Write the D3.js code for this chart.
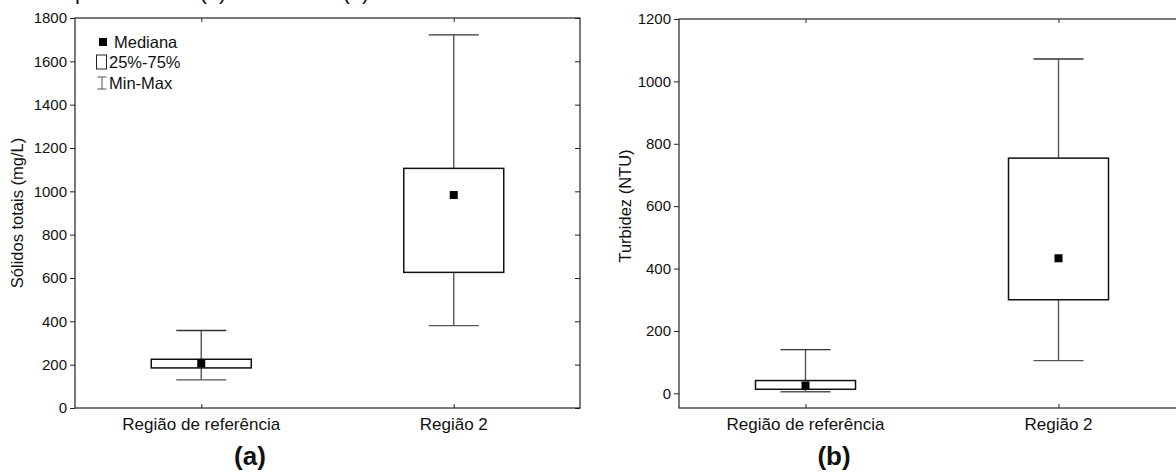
<!DOCTYPE html>
<html><head><meta charset="utf-8">
<script src="https://cdn.jsdelivr.net/npm/d3@7"></script>
<style>
body{margin:0;background:#fff}
text{font-family:"Liberation Sans",Arial,sans-serif;fill:#111}
</style>
</head><body>
<svg id="chart" width="1176" height="475"></svg>
<script>
// Categories shared by both panels
const categories = ["Região de referência", "Região 2"];

// (a) Sólidos totais (mg/L): min, quartis, mediana, max
const solidsMin = [130, 380];
const solidsQ1  = [185, 626];
const solidsMed = [206, 983];
const solidsQ3  = [225, 1106];
const solidsMax = [358, 1722];
const solidsTicks = [0, 200, 400, 600, 800, 1000, 1200, 1400, 1600, 1800];

// (b) Turbidez (NTU)
const turbMin = [5, 105];
const turbQ1  = [13, 300];
const turbMed = [25, 433];
const turbQ3  = [41, 754];
const turbMax = [140, 1072];
const turbTicks = [0, 200, 400, 600, 800, 1000, 1200];

const legendItems = ["Mediana", "25%-75%", "Min-Max"];

const svg = d3.select("#chart");

// Clipped line of the caption above the figure
svg.append("text").attr("x", 75).attr("y", -1).attr("font-size", 22).text("p");
svg.append("text").attr("x", 213).attr("y", -1).attr("font-size", 22).attr("text-anchor", "middle").text("(a)");
svg.append("text").attr("x", 356).attr("y", -1).attr("font-size", 22).attr("text-anchor", "middle").text("(b)");

function panel(o) {
  const g = svg.append("g");
  const x = d3.scalePoint().domain(categories).range([o.left, o.right]).padding(0.5);
  const y = d3.scaleLinear().domain(o.domain).range([o.bottom, o.top]);

  // frame
  g.append("rect").attr("x", o.left).attr("y", o.top)
    .attr("width", o.right - o.left).attr("height", o.bottom - o.top)
    .attr("fill", "none").attr("stroke", "#222").attr("stroke-width", 1.2);

  // left axis with labels (outward ticks)
  const ax = g.append("g").attr("transform", `translate(${o.left},0)`)
    .call(d3.axisLeft(y).tickValues(o.ticks).tickSize(5).tickPadding(3).tickFormat(d3.format("d")));
  ax.select(".domain").remove();
  ax.selectAll("line").attr("stroke", "#222");
  ax.selectAll("text").attr("font-size", 15).attr("font-family", "Liberation Sans, Arial, sans-serif").attr("fill", "#111");

  // mirrored inward ticks on the right edge
  const ar = g.append("g").attr("transform", `translate(${o.right},0)`)
    .call(d3.axisLeft(y).tickValues(o.ticks).tickSize(5).tickFormat(""));
  ar.select(".domain").remove();
  ar.selectAll("line").attr("stroke", "#222");

  // inward category ticks, top and bottom
  const at = g.append("g").attr("transform", `translate(0,${o.top})`)
    .call(d3.axisBottom(x).tickSize(4).tickFormat(""));
  at.select(".domain").remove();
  at.selectAll("line").attr("stroke", "#222");
  const ab = g.append("g").attr("transform", `translate(0,${o.bottom})`)
    .call(d3.axisTop(x).tickSize(4).tickFormat(""));
  ab.select(".domain").remove();
  ab.selectAll("line").attr("stroke", "#222");

  // category labels
  g.selectAll(".cat").data(categories).join("text")
    .attr("x", d => x(d)).attr("y", o.bottom + 22)
    .attr("text-anchor", "middle").attr("font-size", 17).text(d => d);

  // y title
  g.append("text")
    .attr("transform", `translate(${o.titleX},${o.titleY}) rotate(-90)`)
    .attr("text-anchor", "middle").attr("font-size", 16.5).text(o.ytitle);

  // panel letter
  g.append("text").attr("x", o.letterX).attr("y", o.bottom + 57)
    .attr("text-anchor", "middle").attr("font-size", 26).attr("font-weight", "bold").text(o.letter);

  const boxW = 100, capW = 50, medS = 8;
  const rows = categories.map((c, i) => ({
    c, min: o.min[i], q1: o.q1[i], med: o.med[i], q3: o.q3[i], max: o.max[i]
  }));
  const b = g.selectAll(".box").data(rows).join("g");
  // whiskers
  b.append("line").attr("x1", d => x(d.c)).attr("x2", d => x(d.c))
    .attr("y1", d => y(d.max)).attr("y2", d => y(d.q3)).attr("stroke", "#555").attr("stroke-width", 1.4);
  b.append("line").attr("x1", d => x(d.c)).attr("x2", d => x(d.c))
    .attr("y1", d => y(d.q1)).attr("y2", d => y(d.min)).attr("stroke", "#555").attr("stroke-width", 1.4);
  b.append("line").attr("x1", d => x(d.c) - capW / 2).attr("x2", d => x(d.c) + capW / 2)
    .attr("y1", d => y(d.max)).attr("y2", d => y(d.max)).attr("stroke", "#333").attr("stroke-width", 1.4);
  b.append("line").attr("x1", d => x(d.c) - capW / 2).attr("x2", d => x(d.c) + capW / 2)
    .attr("y1", d => y(d.min)).attr("y2", d => y(d.min)).attr("stroke", "#555").attr("stroke-width", 1.4);
  // box
  b.append("rect").attr("x", d => x(d.c) - boxW / 2).attr("width", boxW)
    .attr("y", d => y(d.q3)).attr("height", d => y(d.q1) - y(d.q3))
    .attr("fill", "#fff").attr("stroke", "#111").attr("stroke-width", 1.5);
  // median
  b.append("rect").attr("x", d => x(d.c) - medS / 2).attr("y", d => y(d.med) - medS / 2)
    .attr("width", medS).attr("height", medS).attr("fill", "#000");
}

panel({
  left: 75, right: 580, top: 18, bottom: 408, domain: [0, 1800], ticks: solidsTicks,
  min: solidsMin, q1: solidsQ1, med: solidsMed, q3: solidsQ3, max: solidsMax,
  ytitle: "Sólidos totais (mg/L)", titleX: 23, titleY: 213, letter: "(a)", letterX: 250
});
panel({
  left: 679, right: 1185, top: 19, bottom: 408, domain: [-47, 1200], ticks: turbTicks,
  min: turbMin, q1: turbQ1, med: turbMed, q3: turbQ3, max: turbMax,
  ytitle: "Turbidez (NTU)", titleX: 631, titleY: 206, letter: "(b)", letterX: 834
});

// legend inside panel (a)
const lg = svg.append("g");
const ly = [42, 62, 83];
lg.append("rect").attr("x", 99).attr("y", ly[0] - 4).attr("width", 8).attr("height", 8).attr("fill", "#000");
lg.append("rect").attr("x", 96.5).attr("y", ly[1] - 7).attr("width", 10).attr("height", 14)
  .attr("fill", "#fff").attr("stroke", "#222").attr("stroke-width", 1);
lg.append("line").attr("x1", 102).attr("x2", 102).attr("y1", ly[2] - 6).attr("y2", ly[2] + 6).attr("stroke", "#555");
lg.append("line").attr("x1", 97.5).attr("x2", 106.5).attr("y1", ly[2] - 6).attr("y2", ly[2] - 6).attr("stroke", "#555");
lg.append("line").attr("x1", 97.5).attr("x2", 106.5).attr("y1", ly[2] + 6).attr("y2", ly[2] + 6).attr("stroke", "#555");
lg.selectAll(".lt").data(legendItems).join("text")
  .attr("x", (d, i) => i === 0 ? 114 : 109).attr("y", (d, i) => ly[i]).attr("dy", "0.36em")
  .attr("font-size", 16.5).text(d => d);
</script>
</body></html>
